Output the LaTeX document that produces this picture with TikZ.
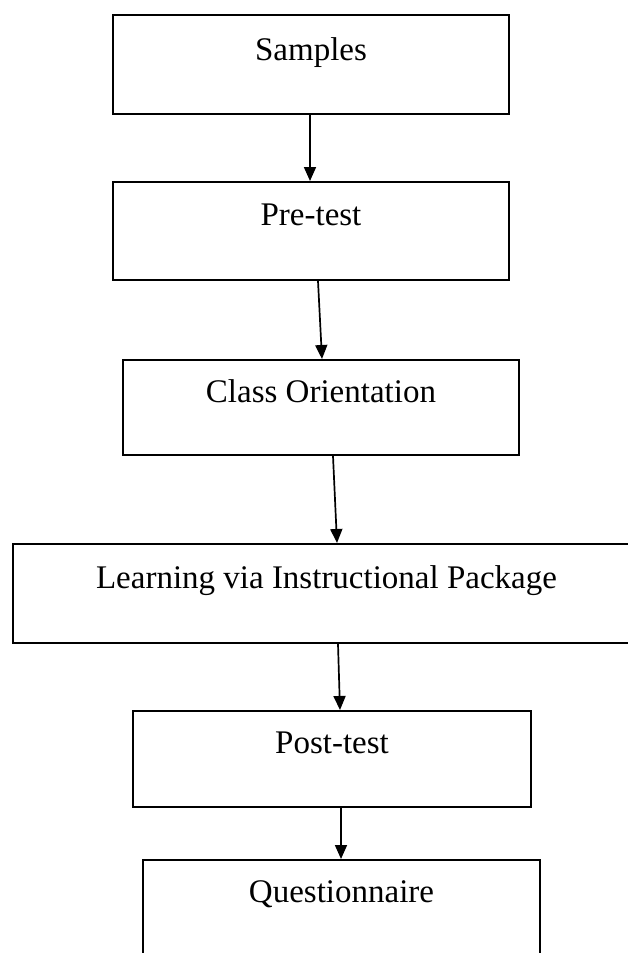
\documentclass[tikz,border=0pt]{standalone}
\usepackage{fontspec}
\setmainfont{Liberation Serif}
\usepackage{tikz}
\usetikzlibrary{arrows.meta,calc}
\tikzset{
  blk/.style={draw=black, line width=2pt, fill=white, inner sep=0pt, align=center,
              font=\fontsize{33}{40}\selectfont},
  flowarr/.style={-{Triangle[length=14pt,width=12pt]}, black, line width=1.7pt},
}
\begin{document}
\begin{tikzpicture}[x=1pt,y=1pt]
    \useasboundingbox (0,0) rectangle (628,-953);
    \clip (0,0) rectangle (628,-953);
    \fill[white] (0,0) rectangle (628,-953);
    % boxes, text sits in the upper part
    \node[blk, minimum width=396pt, text height=45pt, text depth=54pt] (samples) at (311,-64.5) {Samples};
    \node[blk, minimum width=396pt, text height=43pt, text depth=55pt] (pretest) at (311,-231) {Pre-test};
    \node[blk, minimum width=396pt, text height=42pt, text depth=53pt] (orient) at (321,-407.5) {Class Orientation};
    \node[blk, minimum width=627pt, text height=44pt, text depth=55pt] (learn) at (326.5,-593.5) {Learning via Instructional Package};
    \node[blk, minimum width=398pt, text height=42pt, text depth=54pt] (posttest) at (332,-759) {Post-test};
    \node[blk, minimum width=397pt, text height=42pt, text depth=54pt] (quest) at (341.5,-908) {Questionnaire};
    % arrows
    \draw[flowarr] ([xshift=-1pt]samples.south) -- ([xshift=-1pt]pretest.north);
    \draw[flowarr] ([xshift=7pt]pretest.south) -- ([xshift=1pt]orient.north);
    \draw[flowarr] ([xshift=12pt]orient.south) -- ([xshift=10.5pt]learn.north);
    \draw[flowarr] ([xshift=11.5pt]learn.south) -- ([xshift=8pt]posttest.north);
    \draw[flowarr] ([xshift=9pt]posttest.south) -- ([xshift=-0.5pt]quest.north);
  \end{tikzpicture}
\end{document}
